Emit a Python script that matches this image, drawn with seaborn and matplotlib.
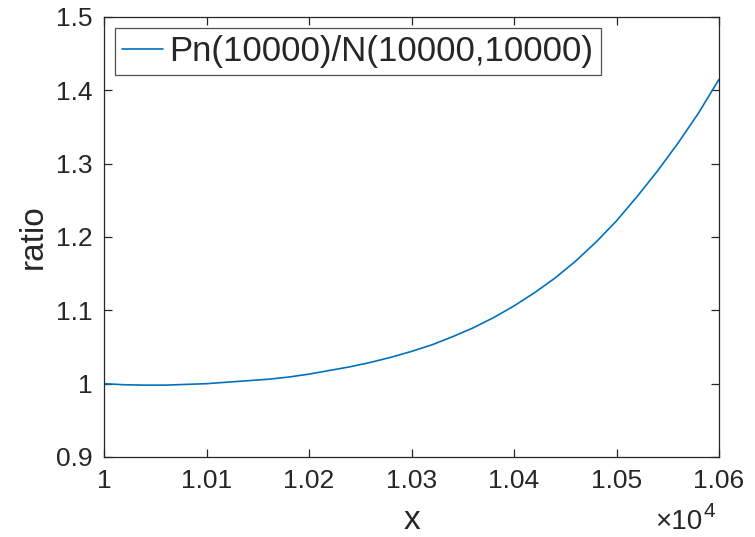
import matplotlib
matplotlib.use("Agg")
import matplotlib.pyplot as plt
from matplotlib.ticker import FuncFormatter
import pandas as pd
import seaborn as sns

# Ratio Pn(10000)/N(10000,10000) sampled over x
x_values = [10000, 10020, 10040, 10060, 10080, 10100, 10120, 10140, 10160,
            10180, 10200, 10220, 10240, 10260, 10280, 10300, 10320, 10340,
            10360, 10380, 10400, 10420, 10440, 10460, 10480, 10500, 10520,
            10540, 10560, 10580, 10600]
ratio_values = [1.000, 0.9985, 0.998, 0.998, 0.999, 1.000, 1.002, 1.004, 1.006,
                1.009, 1.013, 1.018, 1.023, 1.029, 1.036, 1.044, 1.053, 1.064,
                1.076, 1.090, 1.106, 1.124, 1.144, 1.167, 1.193, 1.222, 1.255,
                1.290, 1.328, 1.369, 1.415]
series_label = "Pn(10000)/N(10000,10000)"
x_ticks = [10000, 10100, 10200, 10300, 10400, 10500, 10600]
y_ticks = [0.9, 1.0, 1.1, 1.2, 1.3, 1.4, 1.5]

sns.set_theme(style="white")
plt.rcParams["font.family"] = ["Liberation Sans", "DejaVu Sans"]

df = pd.DataFrame({"x": x_values, "ratio": ratio_values})

fig = plt.figure(figsize=(7.55, 5.37), dpi=100)
ax = fig.add_axes([104 / 755, 1 - 457 / 537, (719 - 104) / 755, (457 - 17) / 537])

sns.lineplot(data=df, x="x", y="ratio", ax=ax, color="#0072BD", linewidth=1.2,
             label=series_label)

ax.set_xlim(10000, 10600)
ax.set_ylim(0.9, 1.5)
ax.set_xticks(x_ticks)
ax.set_yticks(y_ticks)
ax.xaxis.set_major_formatter(FuncFormatter(lambda v, p: f"{v / 1e4:g}"))
ax.yaxis.set_major_formatter(FuncFormatter(lambda v, p: f"{v:g}"))

axis_color = "#262626"
for side in ["left", "right", "top", "bottom"]:
    ax.spines[side].set_visible(True)
    ax.spines[side].set_color(axis_color)
    ax.spines[side].set_linewidth(0.9)
ax.tick_params(axis="both", which="major", direction="in", length=6, width=0.9,
               color=axis_color, labelcolor=axis_color, labelsize=19,
               top=True, right=True, bottom=True, left=True)
ax.tick_params(axis="x", pad=9)
ax.tick_params(axis="y", pad=8)

ax.set_xlabel("x", fontsize=24, color=axis_color, va="baseline")
ax.set_ylabel("ratio", fontsize=24, color=axis_color)
ax.xaxis.set_label_coords(0.5, (457 - 529) / 440)
ax.yaxis.set_label_coords((49 - 104) / 615, 0.5)

# scale factor for the x axis: "×10" with a raised exponent
ax.text((702 - 104) / 615, (457 - 529) / 440, "×10", transform=ax.transAxes,
        ha="right", va="baseline", fontsize=20, color=axis_color)
ax.text((703 - 104) / 615, (457 - 517) / 440, "4", transform=ax.transAxes,
        ha="left", va="baseline", fontsize=15, color=axis_color)

leg = ax.legend(loc="upper left", bbox_to_anchor=(0.018, 0.975), fontsize=25,
                frameon=True, fancybox=False, edgecolor=axis_color,
                handlelength=1.17, handletextpad=0.2, borderpad=0.2,
                borderaxespad=0)
leg.get_frame().set_linewidth(0.9)

fig.savefig("out.png", dpi=100)
